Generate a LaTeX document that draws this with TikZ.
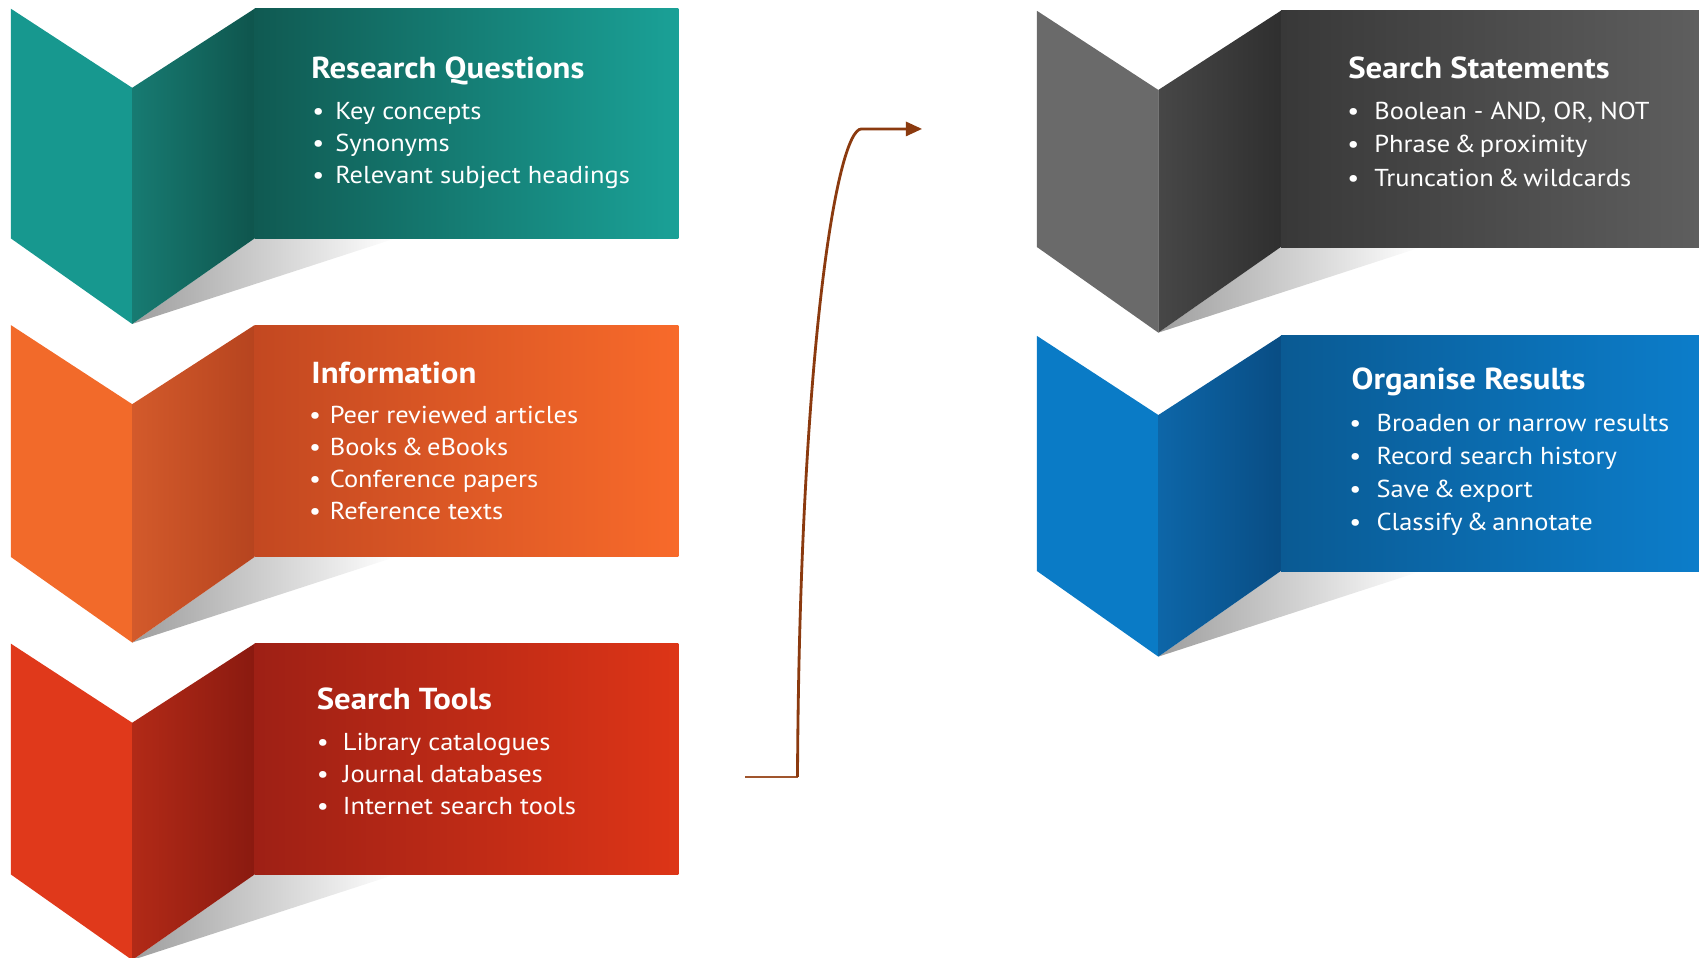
\documentclass[tikz,border=0pt]{standalone}
\usepackage{fontspec}
\setmainfont[FakeStretch=1.08]{PT Sans}
\usetikzlibrary{arrows.meta}
\definecolor{tealL}{HTML}{17988F}
\definecolor{tealM1}{HTML}{177B72}
\definecolor{tealM2}{HTML}{0F554D}
\definecolor{tealR1}{HTML}{105A52}
\definecolor{tealR2}{HTML}{1AA197}
\definecolor{orL}{HTML}{F26A2A}
\definecolor{orM1}{HTML}{D35A2B}
\definecolor{orM2}{HTML}{B6441F}
\definecolor{orR1}{HTML}{C34821}
\definecolor{orR2}{HTML}{F86A2A}
\definecolor{rdL}{HTML}{E0391B}
\definecolor{rdM1}{HTML}{B22A17}
\definecolor{rdM2}{HTML}{8A1A10}
\definecolor{rdR1}{HTML}{9E2015}
\definecolor{rdR2}{HTML}{DD3517}
\definecolor{gyL}{HTML}{6A6A6A}
\definecolor{gyM1}{HTML}{474747}
\definecolor{gyM2}{HTML}{2F2F2F}
\definecolor{gyR1}{HTML}{383838}
\definecolor{gyR2}{HTML}{5E5E5E}
\definecolor{blL}{HTML}{0A7BC6}
\definecolor{blM1}{HTML}{0D66A8}
\definecolor{blM2}{HTML}{094D84}
\definecolor{blR1}{HTML}{0A5A93}
\definecolor{blR2}{HTML}{0C7DCA}
\definecolor{arrowc}{HTML}{8B3A0F}
\definecolor{stubc}{HTML}{A0552D}
\newcommand\foldblk[9]{%
  \shade[left color=black!38, right color=white]
    ({#1+112},{#3+79}) -- ({#1+225},#3) -- ({#1+355},#3) -- cycle;
  \fill[#5] (#1,#2) -- ({#1+112},{#2+73}) -- ({#1+112},{#3+79}) -- (#1,#3) -- cycle;
  \shade[left color=#6, right color=#7]
    ({#1+112},{#2+73}) -- ({#1+225},#2) -- ({#1+225},#3) -- ({#1+112},{#3+79}) -- cycle;
  \shade[left color=#8, right color=#9] ({#1+225},#2) rectangle (#4,#3);
}
\newcommand\itemlist[6]{%
  \foreach \t [count=\i from 0] in {#6} {
    \node[itm, name=#1b\i] at (#2,{#4+\i*#5}) {•};
    \node[itm, name=#1t\i] at (#3,{#4+\i*#5}) {\t};
  }
}
\begin{document}
\begin{tikzpicture}[x=0.5pt,y=-0.5pt,
  ttl/.style={anchor=base west, text=white, inner sep=0pt,
    font=\bfseries\fontsize{14}{16}\selectfont},
  itm/.style={anchor=base west, text=white, inner sep=0pt,
    font=\fontsize{11.3}{13}\selectfont}]
\useasboundingbox (0,0) rectangle (1568,884);

% blocks
\foldblk{10}{8}{220}{626}{tealL}{tealM1}{tealM2}{tealR1}{tealR2}
\foldblk{10}{300}{514}{626}{orL}{orM1}{orM2}{orR1}{orR2}
\foldblk{10}{594}{807}{626}{rdL}{rdM1}{rdM2}{rdR1}{rdR2}
\foldblk{957}{10}{228}{1568}{gyL}{gyM1}{gyM2}{gyR1}{gyR2}
\foldblk{957}{310}{527}{1568}{blL}{blM1}{blM2}{blR1}{blR2}

% texts
\node[ttl] (rq) at (287,72) {Research Questions};
\itemlist{rq}{288}{309}{110}{29.5}{Key concepts, Synonyms, Relevant subject headings}

\node[ttl] (inf) at (287,354) {Information};
\itemlist{inf}{285}{304}{391}{29.6}{Peer reviewed articles, Books\,\&\,eBooks, Conference papers, Reference texts}

\node[ttl] (st) at (292,655) {Search Tools};
\itemlist{st}{292}{316}{693}{29.2}{Library catalogues, Journal databases, Internet search tools}

\node[ttl] (ss) at (1244,72) {Search Statements};
\itemlist{ss}{1243}{1268}{110}{31}{{Boolean - AND, OR, NOT}, Phrase\,\&\,proximity, Truncation\,\&\,wildcards}

\node[ttl] (orr) at (1247,359) {Organise Results};
\itemlist{or}{1245}{1270}{398}{30.4}{Broaden or narrow results, Record search history, Save\,\&\,export, Classify\,\&\,annotate}

% connector
\coordinate (c0) at (688,717);
\coordinate (c1) at (736,717);
\coordinate (c2) at (795,119);
\coordinate (c3) at (851,119);
\draw[stubc, line width=0.8pt] (c0) -- (c1);
\draw[arrowc, line width=1.3pt, -{Triangle[length=7.5pt,width=6.5pt]}]
  (c1) .. controls (738,330) and (772,119) .. (c2) -- (c3);
\end{tikzpicture}
\end{document}
